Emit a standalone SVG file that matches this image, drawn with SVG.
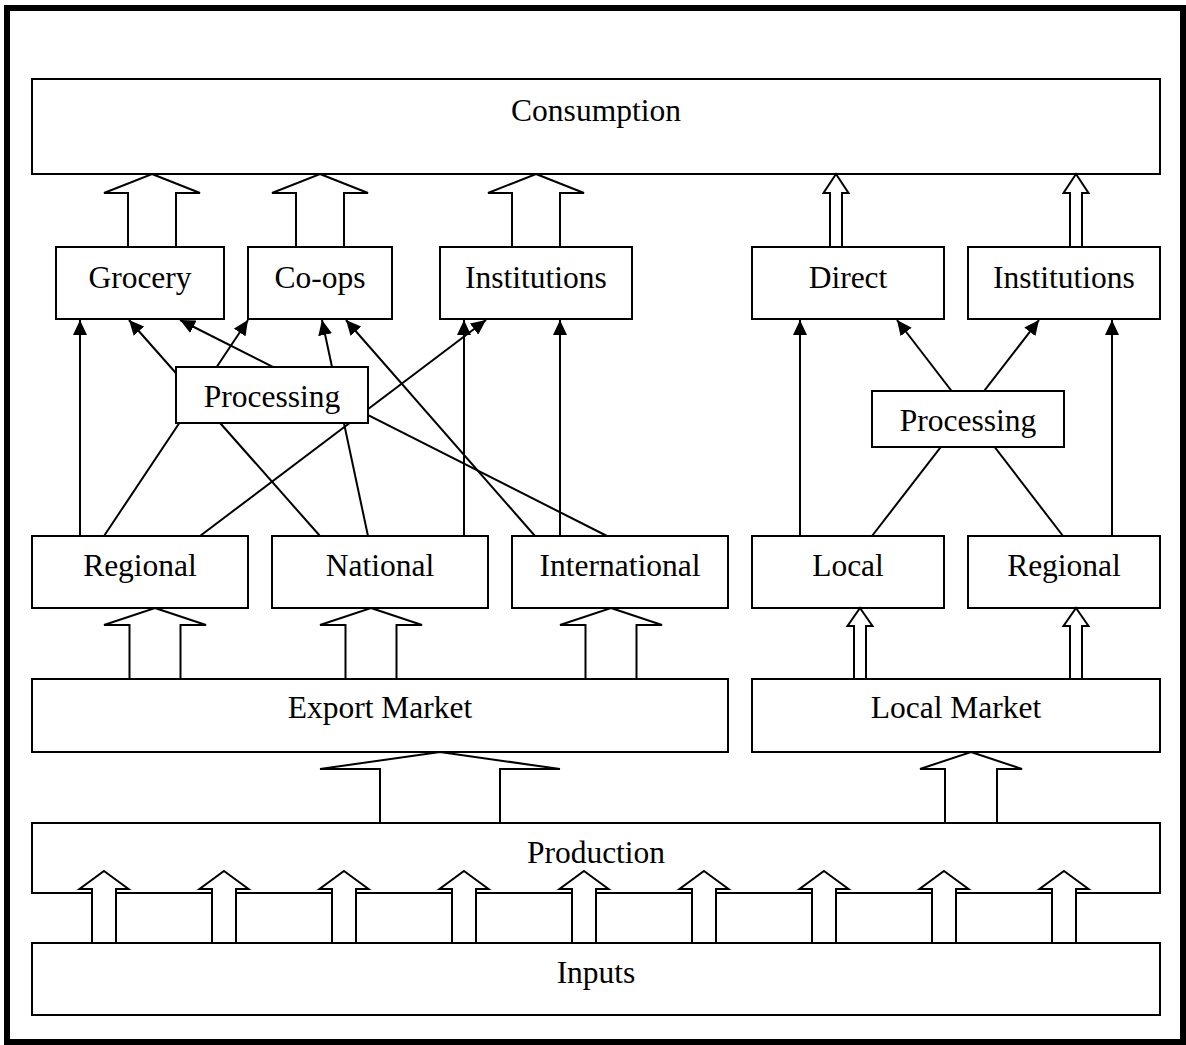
<svg xmlns="http://www.w3.org/2000/svg" width="1186" height="1045" viewBox="0 0 1186 1045">
  <style>
    .box { fill: #fff; stroke: #000; stroke-width: 2; }
    .lbl { font-family: "Liberation Serif", "Times New Roman", serif; font-size: 31.5px; fill: #000; text-anchor: middle; }
    .link { stroke: #000; stroke-width: 2; fill: none; marker-end: url(#tip); }
    .flow { fill: #fff; stroke: #000; stroke-width: 2; stroke-linejoin: miter; }
  </style>
  <defs>
    <marker id="tip" markerUnits="userSpaceOnUse" markerWidth="15" markerHeight="14" refX="15" refY="7" orient="auto">
      <path d="M0,0 L15,7 L0,14 Z" fill="#000"/>
    </marker>
  </defs>

  <rect width="1186" height="1045" fill="#fff"/>
  <!-- outer frame -->
  <rect x="7" y="8" width="1176" height="1034" fill="none" stroke="#000" stroke-width="6"/>

  <!-- thin flow lines (drawn beneath the boxes) -->
  <g id="links">
    <line class="link" x1="80" y1="536" x2="80" y2="320"/>
    <line class="link" x1="104" y1="536" x2="248" y2="320"/>
    <line class="link" x1="200" y1="536" x2="486" y2="320"/>
    <line class="link" x1="320" y1="536" x2="129" y2="320"/>
    <line class="link" x1="368" y1="536" x2="322" y2="320"/>
    <line class="link" x1="464" y1="536" x2="464" y2="320"/>
    <line class="link" x1="535" y1="536" x2="346" y2="320"/>
    <line class="link" x1="607" y1="536" x2="180" y2="320"/>
    <line class="link" x1="560" y1="536" x2="560" y2="320"/>
    <line class="link" x1="800" y1="536" x2="800" y2="320"/>
    <line class="link" x1="872" y1="536" x2="1039" y2="320"/>
    <line class="link" x1="1063" y1="536" x2="897" y2="320"/>
    <line class="link" x1="1112" y1="536" x2="1112" y2="320"/>
  </g>

  <g id="nodes">
    <g id="consumption"><rect class="box" x="32" y="79" width="1128" height="95"/><text class="lbl" x="596" y="121">Consumption</text></g>
    <g id="grocery"><rect class="box" x="56" y="247" width="168" height="72"/><text class="lbl" x="140" y="288">Grocery</text></g>
    <g id="coops"><rect class="box" x="248" y="247" width="144" height="72"/><text class="lbl" x="320" y="288">Co-ops</text></g>
    <g id="institutions-export"><rect class="box" x="440" y="247" width="192" height="72"/><text class="lbl" x="536" y="288">Institutions</text></g>
    <g id="direct"><rect class="box" x="752" y="247" width="192" height="72"/><text class="lbl" x="848" y="288">Direct</text></g>
    <g id="institutions-local"><rect class="box" x="968" y="247" width="192" height="72"/><text class="lbl" x="1064" y="288">Institutions</text></g>
    <g id="processing-export"><rect class="box" x="176" y="367" width="192" height="56"/><text class="lbl" x="272" y="407">Processing</text></g>
    <g id="processing-local"><rect class="box" x="872" y="391" width="192" height="56"/><text class="lbl" x="968" y="431">Processing</text></g>
    <g id="regional-export"><rect class="box" x="32" y="536" width="216" height="72"/><text class="lbl" x="140" y="576">Regional</text></g>
    <g id="national"><rect class="box" x="272" y="536" width="216" height="72"/><text class="lbl" x="380" y="576">National</text></g>
    <g id="international"><rect class="box" x="512" y="536" width="216" height="72"/><text class="lbl" x="620" y="576">International</text></g>
    <g id="local"><rect class="box" x="752" y="536" width="192" height="72"/><text class="lbl" x="848" y="576">Local</text></g>
    <g id="regional-local"><rect class="box" x="968" y="536" width="192" height="72"/><text class="lbl" x="1064" y="576">Regional</text></g>
    <g id="export-market"><rect class="box" x="32" y="679" width="696" height="73"/><text class="lbl" x="380" y="718">Export Market</text></g>
    <g id="local-market"><rect class="box" x="752" y="679" width="408" height="73"/><text class="lbl" x="956" y="718">Local Market</text></g>
    <g id="production"><rect class="box" x="32" y="823" width="1128" height="70"/><text class="lbl" x="596" y="863">Production</text></g>
    <g id="inputs"><rect class="box" x="32" y="943" width="1128" height="72"/><text class="lbl" x="596" y="983">Inputs</text></g>
  </g>

  <!-- hollow block arrows between levels -->
  <g id="flows">
    <!-- into Consumption -->
    <polygon class="flow" points="152,174 200,193 176,193 176,247 128,247 128,193 104,193"/>
    <polygon class="flow" points="320,174 368,193 344,193 344,247 296,247 296,193 272,193"/>
    <polygon class="flow" points="536,174 584,193 560,193 560,247 512,247 512,193 488,193"/>
    <polygon class="flow" points="836,174 848.5,193 842,193 842,247 830,247 830,193 823.5,193"/>
    <polygon class="flow" points="1076,174 1088.5,193 1082,193 1082,247 1070,247 1070,193 1063.5,193"/>
    <!-- into the channel boxes -->
    <polygon class="flow" points="155,608 206,625 180.5,625 180.5,679 129.5,679 129.5,625 104,625"/>
    <polygon class="flow" points="371,608 422,625 396.5,625 396.5,679 345.5,679 345.5,625 320,625"/>
    <polygon class="flow" points="611,608 662,625 636.5,625 636.5,679 585.5,679 585.5,625 560,625"/>
    <polygon class="flow" points="860,608 872.5,626 866,626 866,679 854,679 854,626 847.5,626"/>
    <polygon class="flow" points="1076,608 1088.5,626 1082,626 1082,679 1070,679 1070,626 1063.5,626"/>
    <!-- into the markets -->
    <polygon class="flow" points="440,752 560,769 500,769 500,823 380,823 380,769 320,769"/>
    <polygon class="flow" points="971,752 1022,769 997,769 997,823 945,823 945,769 920,769"/>
    <!-- into Production -->
    <polygon class="flow" points="104,871 128.5,889 116,889 116,943 92,943 92,889 79.5,889"/>
    <polygon class="flow" points="224,871 248.5,889 236,889 236,943 212,943 212,889 199.5,889"/>
    <polygon class="flow" points="344,871 368.5,889 356,889 356,943 332,943 332,889 319.5,889"/>
    <polygon class="flow" points="464,871 488.5,889 476,889 476,943 452,943 452,889 439.5,889"/>
    <polygon class="flow" points="584,871 608.5,889 596,889 596,943 572,943 572,889 559.5,889"/>
    <polygon class="flow" points="704,871 728.5,889 716,889 716,943 692,943 692,889 679.5,889"/>
    <polygon class="flow" points="824,871 848.5,889 836,889 836,943 812,943 812,889 799.5,889"/>
    <polygon class="flow" points="944,871 968.5,889 956,889 956,943 932,943 932,889 919.5,889"/>
    <polygon class="flow" points="1064,871 1088.5,889 1076,889 1076,943 1052,943 1052,889 1039.5,889"/>
  </g>
</svg>
